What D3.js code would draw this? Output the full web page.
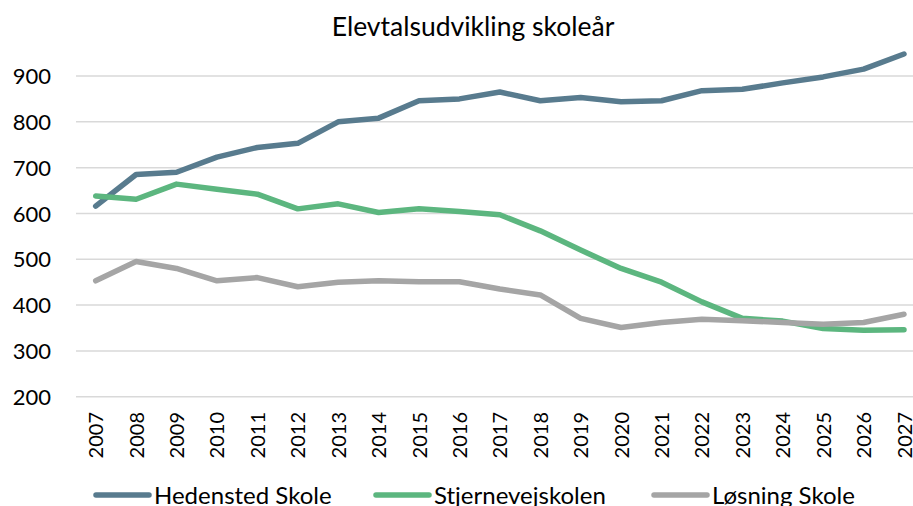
<!DOCTYPE html>
<html>
<head>
<meta charset="utf-8">
<script src="https://cdn.jsdelivr.net/npm/d3@7"></script>
<style>
	body { margin: 0; background: #fff; }
	text { font-family: Lato, "Open Sans", sans-serif; fill: #000; }
</style>
</head>
<body>
<div id="chart"></div>
<script>
// data
var years = [2007, 2008, 2009, 2010, 2011, 2012, 2013, 2014, 2015, 2016, 2017,
	2018, 2019, 2020, 2021, 2022, 2023, 2024, 2025, 2026, 2027];
var hedensted = [616, 685, 690, 723, 744, 753, 800, 808, 846, 850, 865,
	846, 853, 844, 846, 868, 871, 885, 898, 915, 948];
var stjernevej = [638, 631, 664, 653, 642, 610, 621, 602, 610, 604, 597,
	562, 520, 480, 450, 407, 371, 365, 349, 345, 346];
var losning = [453, 495, 480, 453, 460, 440, 450, 453, 451, 451, 435,
	422, 371, 351, 362, 369, 366, 362, 358, 362, 380];
var seriesNames = ["Hedensted Skole", "Stjernevejskolen", "Løsning Skole"];
var seriesColors = ["#587b8e", "#5cb67f", "#a5a5a5"];
var yTicks = [200, 300, 400, 500, 600, 700, 800, 900];

var width = 913, height = 506;

var svg = d3.select("#chart").append("svg")
	.attr("width", width)
	.attr("height", height);

// scales
var x = d3.scalePoint().domain(years).range([95.7, 904]);
var y = d3.scaleLinear().domain([200, 900]).range([396.7, 76]);

// title
svg.append("text")
	.attr("x", 473)
	.attr("y", 36)
	.attr("text-anchor", "middle")
	.style("font-size", "26.5px")
	.text("Elevtalsudvikling skoleår");

// gridlines
svg.append("g")
	.selectAll("line")
	.data(yTicks)
	.enter().append("line")
	.attr("x1", 76)
	.attr("x2", 913)
	.attr("y1", function(d) { return y(d); })
	.attr("y2", function(d) { return y(d); })
	.style("stroke", "#d9d9d9")
	.style("stroke-width", 1.5);

// y axis labels
var yAxis = d3.axisLeft(y).tickValues(yTicks).tickSize(0).tickPadding(0);
svg.append("g")
	.attr("transform", "translate(51,0)")
	.call(yAxis)
	.call(function(g) { g.select(".domain").remove(); })
	.selectAll("text")
	.style("font-size", "22px")
	.attr("dy", "0.35em");

// x axis labels (rotated)
var xAxis = d3.axisBottom(x).tickSize(0).tickPadding(0);
svg.append("g")
	.attr("transform", "translate(0,412)")
	.call(xAxis)
	.call(function(g) { g.select(".domain").remove(); })
	.selectAll("text")
	.style("font-size", "20px")
	.attr("text-anchor", "end")
	.attr("transform", "rotate(-90)")
	.attr("x", 0)
	.attr("y", 0)
	.attr("dx", 0)
	.attr("dy", "0.35em");

// lines
var allSeries = [hedensted, stjernevej, losning];
var line = d3.line()
	.x(function(d, i) { return x(years[i]); })
	.y(function(d) { return y(d); });

svg.append("g")
	.selectAll("path")
	.data(allSeries)
	.enter().append("path")
	.attr("d", line)
	.style("fill", "none")
	.style("stroke", function(d, i) { return seriesColors[i]; })
	.style("stroke-width", 5.5)
	.style("stroke-linejoin", "round")
	.style("stroke-linecap", "round");

// legend
var legendX = [96, 376, 654];
var legend = svg.append("g")
	.selectAll("g")
	.data(seriesNames)
	.enter().append("g")
	.attr("transform", function(d, i) { return "translate(" + legendX[i] + ",495)"; });

legend.append("line")
	.attr("x1", 0)
	.attr("x2", 53)
	.style("stroke", function(d, i) { return seriesColors[i]; })
	.style("stroke-width", 5.5)
	.style("stroke-linecap", "round");

legend.append("text")
	.attr("x", 58)
	.attr("dy", "0.38em")
	.style("font-size", "24px")
	.text(function(d) { return d; });
</script>
</body>
</html>
